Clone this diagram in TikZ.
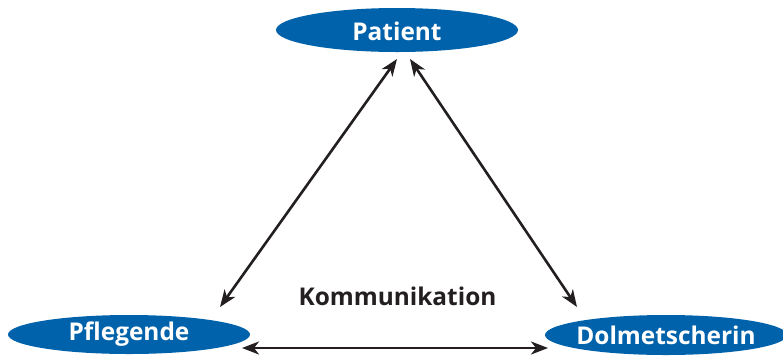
\documentclass[tikz,border=0pt]{standalone}
\usepackage{fontspec}
\setmainfont{Open Sans}
\usetikzlibrary{shapes.geometric,arrows.meta}
\definecolor{nodeblue}{RGB}{0,98,170}
\definecolor{txtdark}{RGB}{35,31,32}
\tikzset{
  party/.style={ellipse, fill=nodeblue, inner sep=0pt, minimum width=242bp},
  partytext/.style={text=white, inner sep=0pt,
    font=\fontsize{24.5}{24.5}\selectfont\bfseries},
  link/.style={draw=txtdark, line width=2.6bp,
    {Stealth[length=17bp,width=13bp,inset=5bp]}-{Stealth[length=17bp,width=13bp,inset=5bp]}},
}
\begin{document}
\begin{tikzpicture}[x=1bp,y=-1bp]
\useasboundingbox (0,0) rectangle (783,355);
\node[party, minimum height=44bp] (pat) at (397,30) {};
\node[party, minimum height=39bp] (pfl) at (129,334.5) {};
\node[party, minimum height=40bp] (dol) at (666,335) {};
\node[partytext] (patt) at ([yshift=-1bp]pat.center) {Patient};
\node[partytext] (pflt) at (pfl.center) {Pflegende};
\node[partytext] (dolt) at (dol.center) {Dolmetscherin};
\node[text=txtdark, font=\fontsize{24.5}{24.5}\selectfont\bfseries] (kom) at (397.5,296) {Kommunikation};
\coordinate (a1) at (397,59);
\coordinate (a2) at (220,307);
\coordinate (b1) at (410,59);
\coordinate (b2) at (577,307);
\coordinate (c1) at (242,348);
\coordinate (c2) at (548,348);
\draw[link] (a1) -- (a2);
\draw[link] (b1) -- (b2);
\draw[link] (c1) -- (c2);
\end{tikzpicture}
\end{document}
